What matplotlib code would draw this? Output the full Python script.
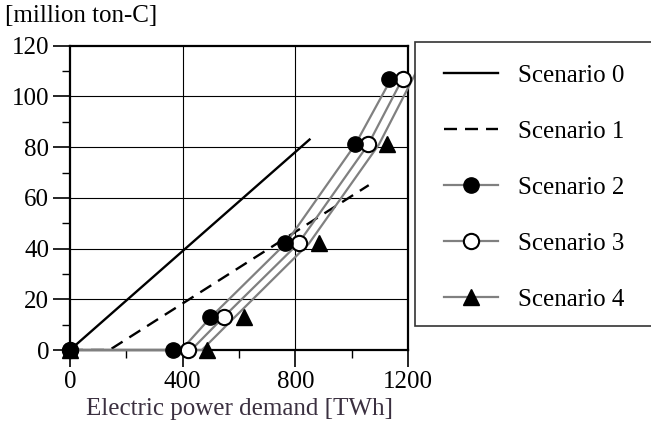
import matplotlib
matplotlib.use("Agg")
import matplotlib.pyplot as plt
from matplotlib.lines import Line2D
from matplotlib.patches import Rectangle

plt.rcParams["font.family"] = ["Liberation Serif", "DejaVu Serif"]

# scenario 0 / 1: straight reference lines
s0_x = [0, 850]
s0_y = [0, 83]
s1_x = [0, 140, 1060]
s1_y = [0, 0, 65]

# scenario 2-4: markers
s2_x = [0, 367, 498, 764, 1010, 1132]
s2_y = [0, 0, 13, 42.3, 81.3, 107]
s3_x = [0, 418, 548, 814, 1058, 1182]
s3_y = [0, 0, 13, 42.3, 81.3, 107]
s4_x = [0, 486, 616, 883, 1126]
s4_y = [0, 0, 13, 42.3, 81.3]

# scenario 2-4: gray curves (drawn slightly apart from the markers in the original)
c2_x = [0, 395, 500, 765, 1012, 1140]
c2_y = [0, 0, 13, 42, 81, 107]
c3_x = [0, 430, 545, 810, 1058, 1180]
c3_y = [0, 0, 13, 42, 81, 107]
c4_x = [0, 468, 585, 848, 1096, 1235]
c4_y = [0, 0, 13, 42, 81, 111]

x_ticks = [0, 400, 800, 1200]
y_ticks = [0, 20, 40, 60, 80, 100, 120]

GRAY = "#808080"
FS = 18
LW = 1.7
DASH = (0, (5.5, 3.4))

fig = plt.figure(figsize=(6.51, 4.34), dpi=100)
ax = fig.add_axes([0.1075, 0.1935, 0.5195, 0.7012])

for x in [400, 800]:
    ax.axvline(x, color="black", linewidth=0.8, zorder=1)
for y in [20, 40, 60, 80, 100]:
    ax.axhline(y, color="black", linewidth=0.8, zorder=1)

ax.plot(s0_x, s0_y, color="black", linewidth=LW, zorder=3)
ax.plot(s1_x, s1_y, color="black", linewidth=LW, linestyle=DASH, zorder=3)

ax.plot(c2_x, c2_y, color=GRAY, linewidth=1.6, zorder=3, clip_on=False)
ax.plot(c3_x, c3_y, color=GRAY, linewidth=1.6, zorder=3, clip_on=False)
ax.plot(c4_x, c4_y, color=GRAY, linewidth=1.6, zorder=3, clip_on=False)

ms = 11
ax.plot(s4_x, s4_y, linestyle="None", marker="^", markersize=ms, color="black", zorder=4, clip_on=False)
ax.plot(s3_x, s3_y, linestyle="None", marker="o", markersize=ms, markerfacecolor="white",
        markeredgecolor="black", markeredgewidth=1.5, zorder=4, clip_on=False)
ax.plot(s2_x, s2_y, linestyle="None", marker="o", markersize=ms, color="black", zorder=5, clip_on=False)

ax.set_xlim(0, 1200)
ax.set_ylim(0, 120)
ax.set_xticks(x_ticks)
ax.set_yticks(y_ticks)
ax.set_xticks([200, 600, 1000], minor=True)
ax.set_yticks([10, 30, 50, 70, 90, 110], minor=True)
ax.tick_params(which="major", direction="out", length=12, width=1.2, pad=3, labelsize=FS)
ax.tick_params(which="minor", direction="out", length=6, width=1.0)
for sp in ax.spines.values():
    sp.set_linewidth(1.6)
    sp.set_zorder(2.5)

ax.set_xlabel("Electric power demand [TWh]", fontsize=FS, color="#3b3040", labelpad=4)
fig.text(0.008, 0.962, "[million ton-C]", fontsize=FS, ha="left", va="center")

# legend box runs off the right edge of the picture
fig.patches.append(Rectangle((0.6375, 0.249), 0.5, 0.654, transform=fig.transFigure,
                             facecolor="white", edgecolor="#333333", linewidth=1.2, zorder=6))
handles = [
    Line2D([], [], color="black", linewidth=LW),
    Line2D([], [], color="black", linewidth=LW, linestyle=DASH),
    Line2D([], [], color=GRAY, linewidth=1.6, marker="o", markersize=ms, markerfacecolor="black", markeredgecolor="black"),
    Line2D([], [], color=GRAY, linewidth=1.6, marker="o", markersize=ms, markerfacecolor="white", markeredgecolor="black", markeredgewidth=1.5),
    Line2D([], [], color=GRAY, linewidth=1.6, marker="^", markersize=ms, markerfacecolor="black", markeredgecolor="black"),
]
labels = ["Scenario 0", "Scenario 1", "Scenario 2", "Scenario 3", "Scenario 4"]
leg = fig.legend(handles, labels, loc="upper left", bbox_to_anchor=(0.667, 0.875),
                 frameon=False, fontsize=FS, handlelength=2.15, handletextpad=0.8,
                 labelspacing=1.34, borderaxespad=0)
leg.set_zorder(7)

fig.savefig("out.png", dpi=100)
